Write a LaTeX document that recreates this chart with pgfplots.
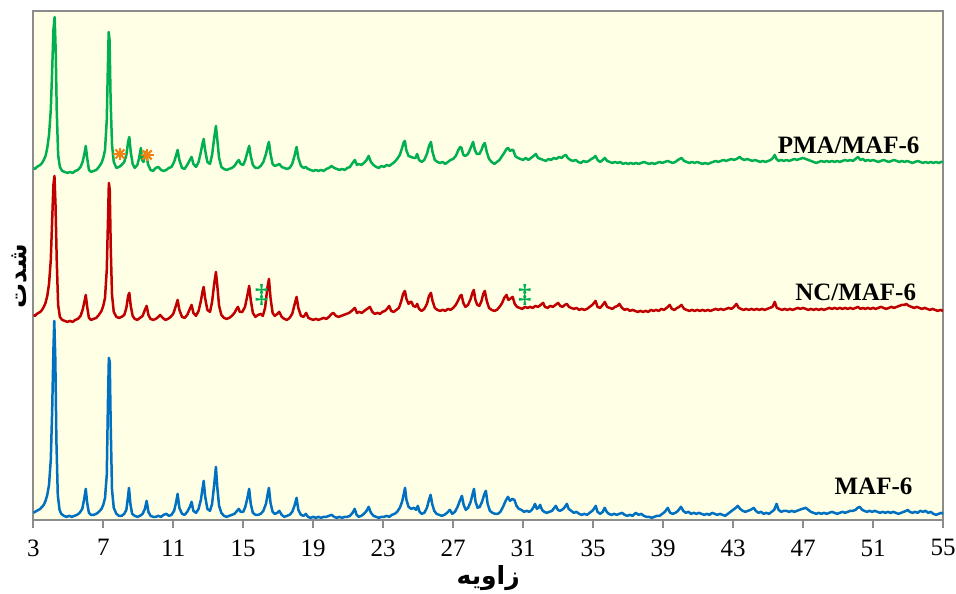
\documentclass[border=0pt]{standalone}
\usepackage{fontspec}
\setmainfont{Liberation Serif}
\newfontfamily\arabicfont[Script=Arabic]{DejaVu Sans}
\TeXXeTstate=1
\usepackage{pgfplots}
\pgfplotsset{compat=1.18}
\definecolor{bgy}{RGB}{255,255,229}
\definecolor{xgreen}{RGB}{0,176,80}
\definecolor{xred}{RGB}{192,0,0}
\definecolor{xblue}{RGB}{0,112,192}
\definecolor{xorange}{RGB}{240,130,20}
\definecolor{framegray}{RGB}{140,140,140}
\begin{document}
\fontsize{12.5}{15}\selectfont
\begin{tikzpicture}
\begin{axis}[name=ax, scale only axis, width=455pt, height=254.5pt,
  xmin=3, xmax=55, ymin=0, ymax=509,
  xtick={3,7,...,55}, ytick=\empty,
  tick align=outside, major tick length=4pt, xtick pos=bottom,
  axis line style={framegray, line width=0.8pt},
  tick style={framegray, line width=0.8pt},
  axis background/.style={fill=bgy},
  /pgf/number format/assume math mode=true,
  ticklabel style={font=\fontsize{12.5}{15}\selectfont},
  xticklabel style={yshift=-1.5pt},
  xlabel={\arabicfont\bfseries\beginR زاویه\endR},
  xlabel style={at={(axis description cs:0.5,0)}, anchor=center, yshift=-29pt},
  ylabel={\arabicfont\bfseries\beginR شدت\endR},
  ylabel style={at={(axis description cs:-0.0146,0.479)}, anchor=center},
  every axis plot/.append style={line width=1.25pt, line join=round},
]
% MAF-6
\addplot[xblue] coordinates {
(3.0,7) (3.1,8) (3.2,9) (3.3,10) (3.4,11) (3.5,13) (3.6,15) (3.7,19) (3.8,25) (3.9,35) (4.0,60) (4.08,110) (4.15,170) (4.2,199) (4.26,160) (4.32,80) (4.4,25) (4.5,10) (4.6,6) (4.75,4) (4.9,3) (5.05,4) (5.2,3) (5.35,4) (5.5,5) (5.65,7) (5.8,11) (5.9,20) (6.0,31) (6.08,17) (6.18,7) (6.3,5) (6.45,5) (6.6,6) (6.75,8) (6.9,11) (7.0,15) (7.1,22) (7.2,45) (7.27,120) (7.32,162) (7.37,158) (7.43,90) (7.5,30) (7.6,12) (7.75,6) (7.9,4) (8.05,4) (8.2,6) (8.32,10) (8.42,24) (8.47,32) (8.55,16) (8.65,6) (8.8,4) (8.95,3) (9.1,4) (9.25,6) (9.38,11) (9.48,19) (9.58,8) (9.7,4) (9.85,3) (10.0,3) (10.15,4) (10.3,3) (10.45,5) (10.6,6) (10.75,4) (10.9,5) (11.05,9) (11.17,18) (11.25,26) (11.35,12) (11.5,6) (11.65,5) (11.8,8) (11.95,13) (12.05,18) (12.15,9) (12.3,7) (12.45,11) (12.58,20) (12.68,32) (12.74,39) (12.82,24) (12.95,11) (13.1,9) (13.22,16) (13.34,35) (13.44,53) (13.52,32) (13.62,14) (13.75,7) (13.9,4) (14.05,3) (14.2,4) (14.35,5) (14.5,6) (14.65,9) (14.75,11) (14.85,8) (15.0,8) (15.12,13) (15.24,22) (15.34,31) (15.43,16) (15.55,7) (15.7,5) (15.85,5) (16.0,6) (16.15,9) (16.3,16) (16.4,26) (16.47,32) (16.56,17) (16.68,8) (16.8,6) (16.95,7) (17.06,9) (17.2,5) (17.35,3) (17.5,4) (17.65,5) (17.8,8) (17.93,14) (18.05,22) (18.15,10) (18.3,5) (18.45,4) (18.58,6) (18.7,3) (18.85,2) (19.0,3) (19.15,2) (19.3,3) (19.45,2) (19.6,3) (19.75,3) (19.9,4) (20.05,5) (20.2,3) (20.35,2) (20.5,3) (20.65,2) (20.8,3) (20.95,3) (21.1,4) (21.25,7) (21.37,11) (21.48,5) (21.6,3) (21.75,4) (21.9,6) (22.05,9) (22.17,13) (22.3,7) (22.45,4) (22.6,3) (22.75,2) (22.9,3) (23.05,3) (23.2,4) (23.35,3) (23.5,5) (23.65,6) (23.8,8) (23.95,12) (24.08,18) (24.18,26) (24.25,32) (24.33,20) (24.45,13) (24.6,11) (24.75,12) (24.88,10) (24.98,14) (25.08,8) (25.2,6) (25.35,7) (25.5,12) (25.62,20) (25.71,25) (25.8,16) (25.92,9) (26.05,6) (26.2,5) (26.35,4) (26.5,5) (26.65,7) (26.81,10) (26.95,6) (27.1,8) (27.25,13) (27.38,19) (27.5,24) (27.6,15) (27.72,10) (27.85,12) (28.0,18) (28.1,25) (28.19,31) (28.28,18) (28.4,12) (28.52,13) (28.65,18) (28.77,25) (28.87,29) (28.97,16) (29.1,9) (29.25,7) (29.4,6) (29.55,6) (29.7,8) (29.85,13) (30.0,19) (30.13,23) (30.25,19) (30.38,21) (30.5,20) (30.62,14) (30.75,11) (30.9,10) (31.05,8) (31.2,9) (31.35,8) (31.5,10) (31.6,13) (31.68,16) (31.78,11) (31.88,12) (31.97,15) (32.08,10) (32.2,8) (32.35,7) (32.5,8) (32.65,9) (32.78,12) (32.87,14) (32.98,10) (33.1,9) (33.22,10) (33.35,12) (33.5,16) (33.6,11) (33.75,9) (33.9,7) (34.05,8) (34.2,6) (34.35,5) (34.5,6) (34.65,5) (34.8,7) (34.95,9) (35.05,11) (35.15,14) (35.25,8) (35.4,6) (35.55,8) (35.66,12) (35.78,8) (35.9,6) (36.05,5) (36.2,6) (36.35,5) (36.5,6) (36.65,7) (36.8,5) (36.95,4) (37.1,5) (37.25,4) (37.44,7) (37.6,5) (37.75,6) (37.9,4) (38.05,3) (38.2,3) (38.35,2) (38.5,3) (38.65,4) (38.8,4) (38.95,6) (39.1,8) (39.27,12) (39.4,7) (39.55,6) (39.7,7) (39.85,9) (40.02,13) (40.15,9) (40.3,7) (40.45,8) (40.6,6) (40.75,7) (40.9,6) (41.05,7) (41.2,6) (41.35,5) (41.5,6) (41.65,5) (41.8,7) (41.95,6) (42.1,5) (42.25,6) (42.4,5) (42.55,4) (42.7,6) (42.85,8) (43.0,10) (43.15,12) (43.27,14) (43.4,11) (43.55,9) (43.7,8) (43.85,9) (44.0,10) (44.18,12) (44.3,9) (44.45,7) (44.6,8) (44.75,6) (44.9,7) (45.05,6) (45.2,8) (45.35,10) (45.49,16) (45.6,10) (45.75,8) (45.9,9) (46.05,9) (46.2,8) (46.35,9) (46.5,8) (46.65,9) (46.8,10) (46.95,11) (47.16,12) (47.3,10) (47.45,8) (47.6,7) (47.75,6) (47.9,7) (48.05,6) (48.2,7) (48.35,6) (48.5,7) (48.65,8) (48.8,7) (48.95,6) (49.1,7) (49.25,8) (49.4,7) (49.55,8) (49.7,9) (49.85,9) (50.0,10) (50.12,12) (50.24,13) (50.38,10) (50.5,9) (50.65,8) (50.8,9) (50.95,8) (51.1,9) (51.25,8) (51.4,7) (51.55,8) (51.7,7) (51.85,8) (52.0,7) (52.15,8) (52.3,7) (52.45,6) (52.6,7) (52.75,8) (52.9,9) (52.98,10) (53.1,8) (53.25,7) (53.4,8) (53.55,7) (53.7,9) (53.85,8) (54.0,9) (54.15,7) (54.3,8) (54.45,6) (54.6,5) (54.75,6) (54.9,7) (55.0,6)
};
% NC/MAF-6
\addplot[xred] coordinates {
(3.0,205) (3.1,204) (3.2,206) (3.3,207) (3.4,208) (3.5,210) (3.6,213) (3.7,217) (3.8,224) (3.9,236) (4.0,260) (4.08,300) (4.15,335) (4.21,344) (4.27,315) (4.34,260) (4.42,215) (4.52,203) (4.65,200) (4.8,199) (4.95,198) (5.1,199) (5.25,198) (5.4,200) (5.55,201) (5.7,204) (5.82,210) (5.92,218) (6.0,225) (6.08,213) (6.18,202) (6.3,200) (6.45,201) (6.6,202) (6.75,205) (6.9,209) (7.0,214) (7.1,222) (7.2,250) (7.27,300) (7.32,337) (7.37,330) (7.43,270) (7.5,225) (7.6,208) (7.75,203) (7.9,202) (8.05,203) (8.2,205) (8.32,212) (8.42,224) (8.49,227) (8.57,214) (8.68,204) (8.8,201) (8.95,200) (9.1,202) (9.25,204) (9.38,210) (9.48,214) (9.58,205) (9.7,201) (9.85,200) (10.0,201) (10.15,203) (10.25,205) (10.4,202) (10.55,200) (10.7,201) (10.85,203) (11.0,206) (11.15,214) (11.25,220) (11.35,210) (11.5,203) (11.65,202) (11.8,205) (11.95,211) (12.05,215) (12.15,207) (12.3,204) (12.45,209) (12.58,219) (12.68,229) (12.74,233) (12.82,222) (12.95,210) (13.1,208) (13.22,218) (13.34,236) (13.44,248) (13.52,234) (13.62,214) (13.75,205) (13.9,202) (14.05,201) (14.2,202) (14.35,204) (14.5,207) (14.62,211) (14.7,213) (14.8,208) (14.95,208) (15.1,213) (15.22,223) (15.34,234) (15.43,220) (15.55,207) (15.7,203) (15.85,205) (16.0,206) (16.12,204) (16.25,212) (16.38,232) (16.47,241) (16.56,222) (16.68,207) (16.8,204) (16.95,206) (17.06,208) (17.2,203) (17.35,201) (17.5,200) (17.65,202) (17.8,206) (17.93,215) (18.05,223) (18.15,212) (18.3,204) (18.45,203) (18.6,207) (18.72,202) (18.85,201) (19.0,200) (19.15,201) (19.3,200) (19.45,201) (19.6,202) (19.75,201) (19.9,203) (20.05,206) (20.15,207) (20.3,204) (20.45,203) (20.6,204) (20.75,205) (20.9,206) (21.05,207) (21.2,209) (21.38,212) (21.5,207) (21.62,208) (21.78,207) (21.92,209) (22.08,211) (22.24,213) (22.38,208) (22.52,206) (22.68,207) (22.82,206) (22.95,208) (23.1,209) (23.22,211) (23.34,214) (23.46,209) (23.6,208) (23.75,210) (23.9,212) (24.02,218) (24.14,226) (24.24,229) (24.33,221) (24.45,216) (24.55,218) (24.62,218) (24.72,214) (24.85,213) (24.94,216) (25.05,211) (25.2,209) (25.35,211) (25.5,216) (25.62,224) (25.73,227) (25.82,219) (25.95,212) (26.1,210) (26.25,209) (26.4,210) (26.55,209) (26.7,211) (26.85,210) (27.0,212) (27.15,215) (27.3,220) (27.4,224) (27.48,225) (27.58,217) (27.7,213) (27.85,215) (28.0,221) (28.1,227) (28.18,230) (28.27,220) (28.38,215) (28.5,214) (28.62,219) (28.72,226) (28.81,229) (28.92,219) (29.05,212) (29.2,210) (29.35,209) (29.5,210) (29.65,213) (29.8,217) (29.92,222) (30.05,225) (30.15,220) (30.25,221) (30.4,223) (30.52,216) (30.65,213) (30.8,212) (30.95,211) (31.1,213) (31.25,212) (31.4,213) (31.55,212) (31.7,214) (31.85,213) (32.0,215) (32.14,217) (32.25,213) (32.4,212) (32.55,214) (32.7,213) (32.85,215) (33.0,217) (33.12,214) (33.25,213) (33.38,215) (33.5,216) (33.62,213) (33.75,212) (33.9,211) (34.05,212) (34.2,210) (34.35,211) (34.5,210) (34.65,211) (34.8,213) (34.95,215) (35.05,217) (35.14,219) (35.25,213) (35.4,212) (35.55,215) (35.67,218) (35.8,213) (35.95,212) (36.1,211) (36.25,213) (36.4,214) (36.5,216) (36.65,212) (36.8,210) (36.95,211) (37.1,209) (37.25,210) (37.4,209) (37.55,208) (37.7,209) (37.85,208) (38.0,209) (38.15,208) (38.3,210) (38.45,209) (38.6,210) (38.75,209) (38.9,211) (39.05,210) (39.2,212) (39.38,215) (39.5,211) (39.65,210) (39.8,212) (39.92,213) (40.05,215) (40.2,211) (40.35,210) (40.5,209) (40.65,210) (40.8,209) (40.95,210) (41.1,209) (41.25,210) (41.4,209) (41.55,210) (41.7,209) (41.85,210) (42.0,211) (42.15,210) (42.3,211) (42.45,210) (42.6,211) (42.75,212) (42.9,211) (43.05,213) (43.19,216) (43.32,212) (43.45,211) (43.6,210) (43.75,211) (43.9,210) (44.05,211) (44.2,210) (44.35,211) (44.5,210) (44.65,211) (44.8,210) (44.95,211) (45.1,212) (45.25,213) (45.38,218) (45.5,212) (45.65,211) (45.8,210) (45.95,211) (46.1,210) (46.25,211) (46.4,210) (46.55,211) (46.7,212) (46.85,211) (47.0,212) (47.15,211) (47.3,210) (47.45,211) (47.6,210) (47.75,211) (47.9,210) (48.05,211) (48.2,210) (48.35,211) (48.5,212) (48.65,211) (48.8,212) (48.95,211) (49.1,212) (49.25,211) (49.4,212) (49.55,211) (49.7,212) (49.85,211) (50.0,212) (50.14,213) (50.28,211) (50.42,212) (50.55,211) (50.7,212) (50.85,211) (51.0,212) (51.15,211) (51.3,212) (51.45,213) (51.6,212) (51.75,211) (51.9,212) (52.05,213) (52.2,212) (52.35,213) (52.5,214) (52.65,215) (52.8,215) (52.9,216) (53.05,214) (53.2,213) (53.35,212) (53.5,213) (53.65,212) (53.8,211) (53.95,212) (54.1,211) (54.25,210) (54.4,211) (54.55,210) (54.7,209) (54.85,210) (55.0,209)
};
% PMA/MAF-6
\addplot[xgreen] coordinates {
(3.0,352) (3.1,351) (3.2,353) (3.3,354) (3.4,355) (3.5,357) (3.6,360) (3.7,364) (3.8,372) (3.9,385) (4.0,410) (4.08,450) (4.15,490) (4.22,503) (4.28,470) (4.34,410) (4.42,365) (4.52,353) (4.65,349) (4.8,348) (4.95,347) (5.1,348) (5.25,347) (5.4,349) (5.55,350) (5.7,353) (5.82,358) (5.92,366) (6.0,374) (6.08,362) (6.18,350) (6.3,348) (6.45,349) (6.6,350) (6.75,353) (6.9,357) (7.0,362) (7.1,370) (7.2,400) (7.26,450) (7.31,488) (7.36,480) (7.42,420) (7.5,375) (7.6,358) (7.75,352) (7.9,353) (8.05,355) (8.2,358) (8.32,365) (8.42,378) (8.49,383) (8.57,368) (8.68,356) (8.8,352) (8.95,355) (9.05,362) (9.15,372) (9.22,360) (9.3,358) (9.38,366) (9.45,368) (9.55,356) (9.7,350) (9.85,349) (10.0,352) (10.15,353) (10.3,350) (10.45,349) (10.6,350) (10.75,352) (10.9,353) (11.05,358) (11.17,365) (11.25,370) (11.35,360) (11.5,352) (11.65,351) (11.8,355) (11.95,360) (12.05,363) (12.15,356) (12.3,353) (12.45,358) (12.58,368) (12.68,377) (12.74,381) (12.82,370) (12.95,358) (13.1,356) (13.22,365) (13.34,382) (13.44,394) (13.52,380) (13.62,362) (13.75,353) (13.9,351) (14.05,350) (14.2,351) (14.35,352) (14.5,354) (14.65,358) (14.75,360) (14.85,356) (15.0,355) (15.12,360) (15.24,368) (15.34,374) (15.43,364) (15.55,355) (15.7,352) (15.85,352) (16.0,354) (16.15,358) (16.3,366) (16.4,374) (16.47,378) (16.56,366) (16.68,356) (16.8,354) (16.95,355) (17.06,356) (17.2,353) (17.35,352) (17.5,351) (17.65,352) (17.8,356) (17.93,364) (18.05,373) (18.15,362) (18.3,354) (18.45,352) (18.58,353) (18.7,351) (18.85,350) (19.0,349) (19.15,350) (19.3,349) (19.45,350) (19.6,349) (19.75,351) (19.9,352) (20.05,354) (20.2,352) (20.35,351) (20.5,350) (20.65,351) (20.8,350) (20.95,352) (21.1,353) (21.25,357) (21.38,360) (21.5,355) (21.6,356) (21.75,355) (21.9,357) (22.05,360) (22.17,364) (22.3,358) (22.45,355) (22.6,353) (22.75,352) (22.9,354) (23.05,353) (23.2,355) (23.35,354) (23.5,356) (23.65,358) (23.8,361) (23.95,365) (24.08,372) (24.18,378) (24.24,379) (24.32,370) (24.45,364) (24.6,363) (24.75,362) (24.85,362) (24.94,366) (25.05,360) (25.2,358) (25.35,360) (25.5,366) (25.62,374) (25.73,378) (25.82,368) (25.95,360) (26.1,358) (26.25,357) (26.4,358) (26.55,356) (26.7,358) (26.85,360) (27.0,361) (27.15,364) (27.3,370) (27.4,373) (27.48,372) (27.58,365) (27.7,364) (27.85,366) (28.0,372) (28.14,378) (28.24,370) (28.35,366) (28.5,366) (28.62,370) (28.72,375) (28.81,377) (28.92,368) (29.05,361) (29.2,358) (29.35,356) (29.5,358) (29.65,360) (29.8,364) (29.95,368) (30.05,371) (30.14,372) (30.25,369) (30.35,370) (30.43,370) (30.55,364) (30.7,362) (30.85,361) (31.0,360) (31.15,362) (31.3,360) (31.45,362) (31.6,364) (31.73,366) (31.85,362) (32.0,361) (32.15,360) (32.3,359) (32.45,361) (32.6,360) (32.75,362) (32.9,361) (33.05,363) (33.2,362) (33.32,364) (33.44,365) (33.55,362) (33.7,360) (33.85,359) (34.0,360) (34.15,358) (34.3,357) (34.45,359) (34.6,358) (34.75,359) (34.9,361) (35.02,362) (35.14,364) (35.25,360) (35.4,358) (35.55,360) (35.67,362) (35.8,359) (35.95,358) (36.1,357) (36.25,358) (36.4,357) (36.55,358) (36.7,356) (36.85,357) (37.0,356) (37.15,357) (37.3,356) (37.45,357) (37.6,356) (37.75,357) (37.9,358) (38.05,357) (38.2,356) (38.35,357) (38.5,356) (38.65,357) (38.8,358) (38.95,357) (39.1,358) (39.25,359) (39.4,358) (39.55,357) (39.7,358) (39.85,360) (40.05,362) (40.2,359) (40.35,358) (40.5,357) (40.65,358) (40.8,357) (40.95,358) (41.1,357) (41.25,356) (41.4,357) (41.55,356) (41.7,357) (41.85,358) (42.0,359) (42.15,358) (42.3,359) (42.45,360) (42.6,359) (42.75,360) (42.9,361) (43.05,360) (43.2,361) (43.38,363) (43.5,361) (43.65,360) (43.8,361) (43.95,360) (44.1,359) (44.25,360) (44.4,359) (44.55,358) (44.7,359) (44.85,358) (45.0,359) (45.15,360) (45.28,362) (45.38,365) (45.48,361) (45.6,359) (45.75,360) (45.9,359) (46.05,360) (46.2,359) (46.35,360) (46.5,361) (46.65,360) (46.8,361) (47.0,362) (47.15,361) (47.3,360) (47.45,359) (47.6,358) (47.75,357) (47.9,358) (48.05,359) (48.2,358) (48.35,359) (48.5,358) (48.65,359) (48.8,358) (48.95,359) (49.1,358) (49.25,359) (49.4,360) (49.55,359) (49.7,360) (49.85,359) (50.0,361) (50.14,363) (50.28,360) (50.42,361) (50.55,359) (50.7,360) (50.85,359) (51.0,360) (51.15,359) (51.3,358) (51.45,359) (51.6,360) (51.75,359) (51.9,358) (52.05,359) (52.2,360) (52.35,359) (52.5,358) (52.65,359) (52.8,358) (52.95,359) (53.1,358) (53.25,357) (53.4,358) (53.55,359) (53.7,358) (53.85,357) (54.0,358) (54.15,357) (54.3,358) (54.45,357) (54.6,358) (54.75,357) (54.9,358) (55.0,358)
};
% orange asterisks
\addplot[only marks, xorange, mark=+, mark size=3.2pt, line width=1.1pt] coordinates {(7.95,366) (9.51,365)};
\addplot[only marks, xorange, mark=x, mark size=3.2pt, line width=1.1pt] coordinates {(7.95,366) (9.51,365)};
% green double daggers
\addplot[only marks, xgreen, mark=text, text mark={\textcolor{xgreen}{\fontsize{13}{13}\selectfont\bfseries ‡}}] coordinates {(16.05,225) (31.1,225)};
\node[anchor=east, inner sep=0pt, font=\bfseries] at (axis cs:53.67,374.5) {PMA/MAF-6};
\node[anchor=east, inner sep=0pt, font=\bfseries] at (axis cs:53.48,227.5) {NC/MAF-6};
\node[anchor=east, inner sep=0pt, font=\bfseries] at (axis cs:53.27,33.3) {MAF-6};
\end{axis}
\pgfresetboundingbox
\path[use as bounding box] ([xshift=-16.65pt,yshift=-37pt]ax.south west) rectangle ([xshift=6.5pt,yshift=5.5pt]ax.north east);
\end{tikzpicture}
\end{document}
